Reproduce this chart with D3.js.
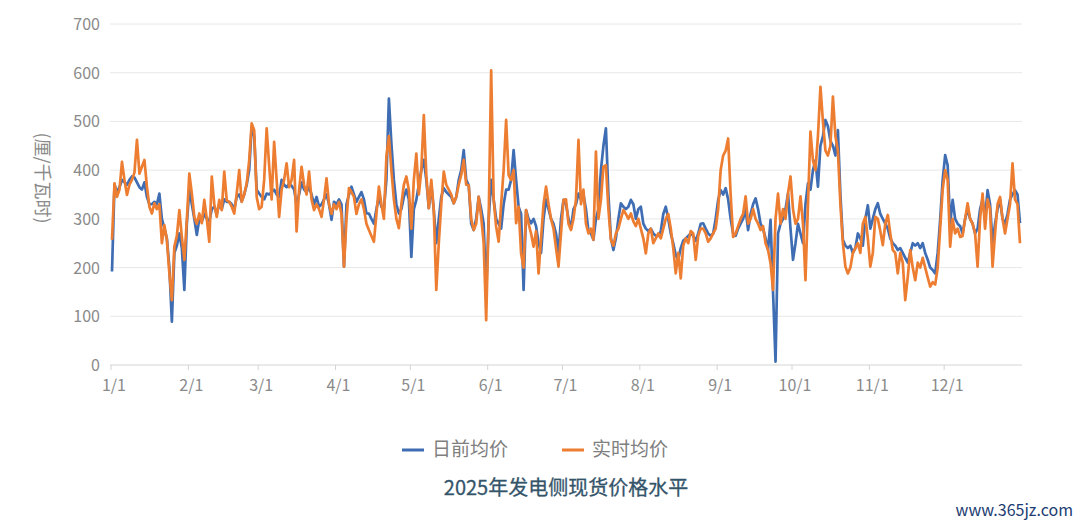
<!DOCTYPE html>
<html><head><meta charset="utf-8">
<script src="https://cdn.jsdelivr.net/npm/d3@7"></script>
<style>
body{margin:0;background:#fff}
svg{display:block}
text{font-family:"Noto Sans CJK SC","Noto Sans",sans-serif}
</style>
</head><body>
<svg id="chart" width="1080" height="525"></svg>
<script>
// ---- data ----
const seriesNames = ["日前均价", "实时均价"];
const seriesColors = ["#3f6db3", "#ed7d31"];
const chartTitle = "2025年发电侧现货价格水平";
const yTitle = "(厘/千瓦时)";
const watermark = "www.365jz.com";
const yTicks = [0, 100, 200, 300, 400, 500, 600, 700];
const monthLabels = ["1/1","2/1","3/1","4/1","5/1","6/1","7/1","8/1","9/1","10/1","11/1","12/1"];

// 日前均价 (day-ahead average), daily, 2025-01-01 .. 2025-12-31
const dayAhead = [
192,370,355,365,380,375,370,380,387,385,375,365,360,375,345,330,330,335,330,352,
300,280,260,200,89,230,245,270,240,154,290,360,330,300,267,300,295,310,300,295,
320,325,310,330,320,340,335,335,330,320,345,350,336,350,370,400,489,470,360,
352,345,340,352,350,355,360,350,345,380,370,365,372,368,360,330,350,375,360,355,
365,350,330,345,325,330,340,350,330,298,335,330,340,330,202,330,350,366,350,335,
345,355,340,311,311,300,290,320,345,325,320,380,547,455,380,330,311,320,345,360,
340,222,
320,339,370,400,421,380,322,370,318,250,300,345,363,355,350,345,332,345,380,400,
441,380,369,290,277,300,345,320,290,147,300,380,340,300,290,280,330,360,360,380,
441,380,325,310,154,318,300,291,300,285,250,230,300,340,320,300,290,270,230,300,
339,
330,300,280,320,330,352,340,350,320,275,270,257,300,320,400,450,486,350,260,236,
260,300,332,325,320,325,339,330,300,320,325,290,280,275,280,270,265,265,275,310,
325,300,270,250,225,216,240,255,260,265,270,265,255,270,290,291,280,270,265,270,
300,339,359,350,
363,340,300,270,265,280,290,300,320,277,310,330,342,320,290,280,260,236,298,150,
7,270,290,300,320,352,280,216,250,290,270,250,330,373,360,400,420,366,450,470,
503,490,460,450,430,482,350,257,245,240,245,230,240,270,260,245,300,328,280,
300,320,332,310,300,290,280,260,250,245,236,240,230,220,210,230,250,245,250,240,
250,230,216,200,195,188,230,298,380,431,410,290,339,300,290,285,270,300,320,300,
290,270,280,320,340,300,359,330,250,290,320,340,300,290,310,340,350,359,350,291
];

// 实时均价 (real-time average), daily, 2025-01-01 .. 2025-12-31
const realTime = [
257,373,345,360,417,380,349,370,380,395,462,393,407,421,366,325,311,332,320,330,
250,287,257,188,133,243,265,318,263,216,298,393,352,304,290,311,291,339,300,253,
387,330,304,339,318,397,338,335,325,311,352,400,335,350,373,420,496,482,345,
320,325,380,486,410,340,458,380,304,360,380,414,365,380,421,274,359,407,370,350,
397,340,318,330,320,304,340,383,330,310,330,320,335,310,202,300,363,355,345,310,
330,340,320,290,277,265,253,310,366,330,300,428,470,400,340,300,281,330,370,387,
360,280,
380,434,350,400,513,390,322,380,318,154,250,330,397,370,360,350,332,345,370,390,
421,370,369,300,277,290,345,304,250,92,300,605,339,284,253,330,400,503,390,380,
400,291,325,229,200,318,290,270,243,275,188,260,330,366,330,300,280,240,202,270,
339,
340,290,277,300,340,462,330,360,290,270,280,257,438,300,339,407,410,320,257,245,
270,280,300,318,310,300,311,295,285,300,280,260,229,270,280,250,260,270,260,280,
300,310,280,240,188,230,178,245,260,250,275,270,216,265,280,280,270,253,260,270,
280,320,400,430,
440,465,350,263,270,285,300,310,346,290,300,320,300,290,277,285,250,236,209,154,
300,352,290,320,300,352,387,320,290,300,346,290,174,330,479,420,400,470,571,500,
440,430,450,551,470,440,330,250,202,188,200,230,240,250,230,290,304,260,202,
230,304,300,275,246,290,308,270,236,230,188,230,210,133,180,236,200,174,210,200,
220,200,180,161,170,165,200,280,360,400,380,243,300,270,280,263,265,300,332,300,
290,270,202,300,352,280,340,320,202,270,330,345,300,270,300,330,414,340,330,250
];

// ---- chart ----
const svg = d3.select("#chart");
const start = new Date(2025, 0, 1);
const dates = dayAhead.map((_, i) => d3.timeDay.offset(start, i));
const x = d3.scaleTime().domain([start, dates[dates.length - 1]]).range([112, 1020]);
const y = d3.scaleLinear().domain([0, 700]).range([365, 24]);

const grid = svg.append("g");
grid.selectAll("line").data(yTicks).join("line")
  .attr("x1", 110).attr("x2", 1022)
  .attr("y1", d => y(d)).attr("y2", d => y(d))
  .attr("stroke", d => d === 0 ? "#d4d4d4" : "#e8e8e8")
  .attr("stroke-width", 1);

svg.append("g").selectAll("text").data(yTicks).join("text")
  .attr("x", 100).attr("y", d => y(d) + 6)
  .attr("text-anchor", "end")
  .attr("font-size", 16).attr("fill", "#8a8a8a")
  .text(d => d);

const monthDates = monthLabels.map((_, i) => new Date(2025, i, 1));
const xAxis = svg.append("g");
xAxis.selectAll("line").data(monthDates).join("line")
  .attr("x1", d => x(d) - 1).attr("x2", d => x(d) - 1)
  .attr("y1", 365).attr("y2", 370)
  .attr("stroke", "#d4d4d4");
xAxis.selectAll("text").data(monthDates).join("text")
  .attr("x", d => x(d) + 2).attr("y", 391)
  .attr("text-anchor", "middle")
  .attr("font-size", 16).attr("fill", "#8a8a8a")
  .text((d, i) => monthLabels[i]);

svg.append("text")
  .attr("transform", "translate(36,178) rotate(90)")
  .attr("text-anchor", "middle")
  .attr("font-size", 18).attr("fill", "#8a8a8a")
  .text(yTitle);

const line = d3.line().x((d, i) => x(dates[i])).y(d => y(d));
[dayAhead, realTime].forEach((s, k) => {
  svg.append("path").datum(s)
    .attr("d", line)
    .attr("fill", "none")
    .attr("stroke", seriesColors[k])
    .attr("stroke-width", 2.7)
    .attr("stroke-linejoin", "round");
});

// legend
const legendX = [402, 562];
seriesNames.forEach((n, k) => {
  svg.append("line")
    .attr("x1", legendX[k]).attr("x2", legendX[k] + 22)
    .attr("y1", 450).attr("y2", 450)
    .attr("stroke", seriesColors[k]).attr("stroke-width", 3);
  svg.append("text")
    .attr("x", legendX[k] + 30).attr("y", 456)
    .attr("font-size", 19).attr("fill", "#7f7f7f")
    .text(n);
});

svg.append("text")
  .attr("x", 566).attr("y", 495)
  .attr("text-anchor", "middle")
  .attr("font-size", 20).attr("fill", "#34546a")
  .attr("stroke", "#34546a").attr("stroke-width", 0.3)
  .text(chartTitle);

svg.append("text")
  .attr("x", 1073).attr("y", 516)
  .attr("text-anchor", "end")
  .attr("font-family", "'DejaVu Serif', serif")
  .attr("font-size", 16).attr("fill", "#1c3c72")
  .text(watermark);
</script>
</body></html>
